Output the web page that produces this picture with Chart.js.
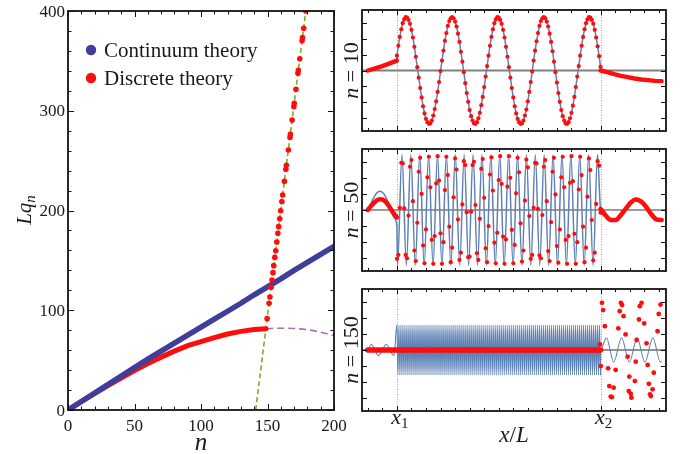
<!DOCTYPE html>
<html lang="en">
<head>
<meta charset="UTF-8">
<title>Lq_n dispersion and mode shapes</title>
<script src="https://cdn.jsdelivr.net/npm/chart.js@4.4.1/dist/chart.umd.min.js"></script>
<style>
  body { margin: 0; background: #fff; }
  #wrap { position: relative; width: 683px; height: 454px; }
  #wrap canvas { position: absolute; left: 0; top: 0; }
</style>
</head>
<body>
<div id="wrap">
  <canvas id="cMain" width="683" height="454"></canvas>
  <canvas id="c10" width="683" height="454"></canvas>
  <canvas id="c50" width="683" height="454"></canvas>
  <canvas id="c150" width="683" height="454"></canvas>
</div>
<script>
// ---- left plot: L q_n versus n ----
const contN  = [0,10,20,30,40,50,60,70,80,90,100,110,120,130,140,150,160,170,180,190,200];
const contLq = [0,8.5,17,25.5,34,42.5,51,59,67,75,83,91,99,107,115.5,123.5,131.5,140,148,156,164];
const discN  = [0,10,20,30,40,50,60,70,80,90,100,110,120,130,140,149];
const discLq = [0,8.3,16.5,24.5,32,39.5,46.5,53,59,64.5,68.5,72.5,76.2,78.8,80.6,81.5];
const upperN  = [149.7,151.2,151.8,152.7,153.4,154.1,154.7,155.5,156.2,157.0,157.8,158.4,159.2,159.9,160.8,161.4,162.7,163.8,164.2,165.7,166.9,167.2,168.5,169.8,170.1,171.4,172.9,173.2,174.3,176.0,176.3,177.2,178.8];
const upperLq = [91.6,106.9,113.3,123.0,130.3,137.7,144.7,153.0,159.7,168.4,177.1,183.8,191.8,199.8,208.9,215.5,229.2,241.3,245.3,260.6,273.3,276.5,290.7,304.1,307.5,321.5,337.5,340.5,352.2,370.3,373.5,382.6,400];
const purpleN  = [149,160,170,180,190,200];
const purpleLq = [81.5,82,81.7,80.5,78,74.5];
const greenN  = [141.1,178.8];
const greenLq = [0,400];
const mainXTicks = [0,50,100,150,200];
const mainYTicks = [0,100,200,300,400];
const mainXMinor = [10,20,30,40,60,70,80,90,110,120,130,140,160,170,180,190];
const mainYMinor = [20,40,60,80,120,140,160,180,220,240,260,280,320,340,360,380];

// ---- right panels: mode shapes versus x/L ----
const segLeft = [0, 0.1], segMid = [0.1, 0.8], segRight = [0.8, 1.01];
const panelXTicks = [0,0.05,0.1,0.15,0.2,0.25,0.3,0.35,0.4,0.45,0.5,0.55,0.6,0.65,0.7,0.75,0.8,0.85,0.9,0.95,1.0];
const panelMarks = [0.1, 0.8];
const panelMarkLabels = ['1', '2'];
const panelYTicks = [-0.87,-0.58,-0.29,0,0.29,0.58,0.87];

// n = 10 (continuum and discrete coincide)
const n10Left  = [0, 0.04, 0.08, 0.13, 0.18];
const n10Mid = [
  0.27,0.45,0.61,0.75,0.86,0.93,0.97,0.96,0.92,0.85,
  0.74,0.60,0.43,0.25,0.06,-0.13,-0.32,-0.49,-0.65,-0.78,
  -0.88,-0.94,-0.97,-0.96,-0.91,-0.82,-0.70,-0.56,-0.39,-0.21,
  -0.01,0.18,0.36,0.54,0.68,0.81,0.90,0.95,0.97,0.95,
  0.89,0.80,0.67,0.52,0.34,0.16,-0.03,-0.23,-0.41,-0.57,
  -0.72,-0.83,-0.91,-0.96,-0.97,-0.94,-0.87,-0.77,-0.63,-0.48,
  -0.30,-0.11,0.08,0.27,0.45,0.61,0.75,0.86,0.93,0.97,
  0.96,0.92,0.85,0.74,0.60,0.43,0.25,0.06,-0.13,-0.32,
  -0.49,-0.65,-0.78,-0.88,-0.94,-0.97,-0.96,-0.91,-0.82,-0.71,
  -0.56,-0.39,-0.21,-0.02,0.18,0.36,0.53,0.68,0.81,0.90,
  0.95,0.97,0.95,0.89,0.80,0.67,0.52,0.35,0.16,-0.03,
  -0.22,-0.41,-0.57,-0.72,-0.83,-0.91,-0.96,-0.97,-0.94,-0.87,
  -0.77,-0.64,-0.48,-0.30,-0.11,0.08,0.27,0.45,0.61,0.75,
  0.86,0.93,0.97,0.96,0.92,0.85,0.74,0.60,0.44,0.26,
  0.07];
const n10Right = [0,-0.03,-0.067,-0.097,-0.12,-0.145,-0.164,-0.176,-0.188,-0.194];

// n = 50
const n50LeftRed  = [0,0.065,0.125,0.17,0.195,0.19,0.155,0.09,0.01,-0.07,-0.13];
const n50LeftBlue = [0,0.11,0.22,0.30,0.34,0.32,0.25,0.14,0.01,-0.14,-0.29];
const n50MidRed = [
  -0.88,-0.81,0.04,0.85,0.84,0.03,  -0.81,-0.87,-0.10,0.78,0.90,0.16,
  -0.73,-0.92,-0.23,0.69,0.94,0.29,  -0.64,-0.96,-0.35,0.59,0.96,0.41,
  -0.54,-0.97,-0.47,0.48,0.97,0.53,  -0.42,-0.97,-0.58,0.36,0.96,0.63,
  -0.30,-0.94,-0.68,0.23,0.93,0.73,  -0.17,-0.90,-0.77,0.10,0.88,0.81,
  -0.04,-0.85,-0.84,-0.03,0.81,0.87, 0.09,-0.78,-0.90,-0.16,0.74,0.92,
  0.22,-0.69,-0.94,-0.29,0.64,0.95,  0.35,-0.59,-0.96,-0.41,0.54,0.97,
  0.47,-0.48,-0.97,-0.53,0.42,0.97,  0.58,-0.36,-0.96,-0.63,0.30,0.94,
  0.68,-0.24,-0.93,-0.73,0.17,0.91,  0.77,-0.11,-0.88,-0.81,0.04,0.85,
  0.84,0.02,-0.82,-0.87,-0.09,0.78,  0.90,0.16,-0.74,-0.92,-0.22,0.69,
  0.94,0.28,-0.65,-0.95,-0.35,0.59,  0.96,0.41,-0.54,-0.97,-0.47,0.49,
  0.97,0.52,-0.43,-0.97,-0.58,0.37,  0.96,0.63,-0.30,-0.94,-0.68,0.24,
  0.93,0.72,-0.18,-0.91,-0.77,0.11,  0.88,0.80,-0.05];
const n50MidBlueSpan = [0.102, 0.7896];
const n50MidBlue = [
  -1,1,-1,1,-1,1,-1,1,-1,1,-1,1,-1,1,-1,1,-1,1,-1,1,-1,1,-1,1,
  -1,1,-1,1,-1,1,-1,1,-1,1,-1,1,-1,1,-1,1,-1,1,-1,1,-1,1];
const n50RightRed  = [0.02,-0.10,-0.18,-0.18,-0.09,0.03,0.14,0.19,0.15,0.05,-0.08,-0.17,-0.18];
const n50RightBlue = [0.02,-0.11,-0.20,-0.20,-0.10,0.03,0.15,0.21,0.17,0.05,-0.09,-0.19,-0.20];

// n = 150
const n150LeftBlueX = [0,0.012,0.037,0.063,0.09];
const n150LeftBlue  = [0,0.1,-0.1,0.1,-0.1];
const n150MidBlue = [
  0.45,-0.45,0.45,-0.45,0.45,-0.45,0.45,-0.45,0.45,-0.45,0.45,-0.45,0.45,-0.45,0.45,-0.45,0.45,-0.45,0.45,-0.45,
  0.45,-0.45,0.45,-0.45,0.45,-0.45,0.45,-0.45,0.45,-0.45,0.45,-0.45,0.45,-0.45,0.45,-0.45,0.45,-0.45,0.45,-0.45,
  0.45,-0.45,0.45,-0.45,0.45,-0.45,0.45,-0.45,0.45,-0.45,0.45,-0.45,0.45,-0.45,0.45,-0.45,0.45,-0.45,0.45,-0.45,
  0.45,-0.45,0.45,-0.45,0.45,-0.45,0.45,-0.45,0.45,-0.45,0.45,-0.45,0.45,-0.45,0.45,-0.45,0.45,-0.45,0.45,-0.45,
  0.45,-0.45,0.45,-0.45,0.45,-0.45,0.45,-0.45,0.45,-0.45,0.45,-0.45,0.45,-0.45,0.45,-0.45,0.45,-0.45,0.45,-0.45,
  0.45,-0.45,0.45,-0.45,0.45,-0.45,0.45,-0.45,0.45,-0.45,0.45,-0.45,0.45,-0.45,0.45,-0.45,0.45,-0.45,0.45,-0.45,
  0.45,-0.45,0.45,-0.45,0.45,-0.45,0.45,-0.45,0.45,-0.45,0.45,-0.45,0.45,-0.45,0.45,-0.45,0.45,-0.45,0.45,-0.45,
  0.45,-0.45,0.45,-0.45,0.45,-0.45,0.45,-0.45,0.45,-0.45,0.45,-0.45,0.45,-0.45,0.45,-0.45,0.45,-0.45,0.45,-0.45,
  0.45,-0.45,0.45,-0.45,0.45,-0.45,0.45,-0.45,0.45,-0.45,0.45,-0.45,0.45,-0.45,0.45,-0.45,0.45,-0.45,0.45,-0.45,
  0.45,-0.45,0.45,-0.45,0.45,-0.45,0.45,-0.45,0.45,-0.45,0.45,-0.45,0.45,-0.45,0.45,-0.45,0.45,-0.45,0.45,-0.45,
  0.45,-0.45,0.45,-0.45];
const n150RightBlueX = [0.8,0.8204,0.8453,0.8722,0.899,0.9259,0.9524,0.9799,1.0057,1.0098];
const n150RightBlue  = [0,0.22,-0.22,0.22,-0.22,0.22,-0.22,0.22,-0.22,-0.2];
const n150FlatX = [0, 0.1, 0.8];
const n150Flat  = [0, 0, 0];
const n150DotsX = [0.805,0.809,0.815,0.798,0.801,0.826,0.852,0.830,0.845,0.835,0.839,0.861,0.866,0.870,0.874,0.879,0.886,0.893,0.897,0.899,0.906,0.904,0.918,0.921,0.924,0.932,0.935,0.941,0.950,0.958,0.962,0.966,0.970,0.973,0.979,0.983,0.996,1.000,1.006];
const n150Dots  = [0.85,0.72,0.43,0.10,-0.29,-0.33,-0.36,-0.65,-0.68,-0.84,-0.85,0.39,0.70,0.85,0.81,0.61,0.28,-0.12,-0.74,-0.48,-0.86,-0.79,-0.56,-0.21,0.18,0.55,0.79,0.85,0.48,0.12,-0.27,-0.61,-0.80,-0.83,-0.71,-0.41,0.34,0.65,0.82];

const RED = '#ff0d0d', BLUE = '#5e81b5', DEEP = '#3f3e9a';
const SERIF = '"Liberation Serif", "DejaVu Serif", serif';

function pairs(xs, ys) { return xs.map((x, i) => ({ x: x, y: ys[i] })); }
// spread values evenly over a segment of the x axis
function along(seg, ys) {
  const step = (seg[1] - seg[0]) / (ys.length - 1);
  return ys.map((y, i) => ({ x: seg[0] + i * step, y: y }));
}

// text made of pieces: [text, size, italic, dy]
function drawParts(ctx, parts, cx, cy, rot) {
  ctx.save();
  ctx.translate(cx, cy);
  if (rot) ctx.rotate(rot);
  ctx.fillStyle = '#1a1a1a';
  ctx.textBaseline = 'alphabetic';
  ctx.textAlign = 'left';
  let w = 0;
  const widths = parts.map(p => {
    ctx.font = (p[2] ? 'italic ' : '') + p[1] + 'px ' + SERIF;
    const m = ctx.measureText(p[0]).width;
    w += m;
    return m;
  });
  let x = -w / 2;
  parts.forEach((p, i) => {
    ctx.font = (p[2] ? 'italic ' : '') + p[1] + 'px ' + SERIF;
    ctx.fillText(p[0], x, p[3] || 0);
    x += widths[i];
  });
  ctx.restore();
}

const framePlugin = {
  id: 'frame',
  beforeDatasetsDraw(chart, args, o) {
    const { ctx, chartArea: a, scales: { x, y } } = chart;
    ctx.save();
    if (o.marks) {
      ctx.strokeStyle = '#8a8a8a';
      ctx.lineWidth = 0.8;
      ctx.setLineDash([1, 1.5]);
      o.marks.forEach(v => {
        const px = Math.round(x.getPixelForValue(v)) + 0.5;
        ctx.beginPath(); ctx.moveTo(px, a.top); ctx.lineTo(px, a.bottom); ctx.stroke();
      });
      ctx.setLineDash([]);
    }
    if (o.zero) {
      const py = y.getPixelForValue(0);
      ctx.strokeStyle = o.zero.color;
      ctx.lineWidth = o.zero.width;
      ctx.beginPath(); ctx.moveTo(a.left, py); ctx.lineTo(a.right, py); ctx.stroke();
    }
    ctx.restore();
  },
  afterDraw(chart, args, o) {
    const { ctx, chartArea: a, scales: { x, y } } = chart;
    ctx.save();
    ctx.strokeStyle = '#111';
    ctx.lineWidth = 1;
    const tickX = (vals, len) => vals.forEach(v => {
      const px = Math.round(x.getPixelForValue(v)) + 0.5;
      ctx.beginPath();
      ctx.moveTo(px, a.bottom); ctx.lineTo(px, a.bottom - len);
      ctx.moveTo(px, a.top); ctx.lineTo(px, a.top + len);
      ctx.stroke();
    });
    const tickY = (vals, len) => vals.forEach(v => {
      const py = Math.round(y.getPixelForValue(v)) + 0.5;
      ctx.beginPath();
      ctx.moveTo(a.left, py); ctx.lineTo(a.left + len, py);
      ctx.moveTo(a.right, py); ctx.lineTo(a.right - len, py);
      ctx.stroke();
    });
    tickX(o.xMajor || [], o.majorLen);
    tickX(o.xMinor || [], o.minorLen);
    tickY(o.yMajor || [], o.majorLen);
    tickY(o.yMinor || [], o.minorLen);

    ctx.lineWidth = 1.8;
    ctx.strokeRect(a.left, a.top, a.right - a.left, a.bottom - a.top);

    ctx.fillStyle = '#1a1a1a';
    if (o.xLabels) {
      ctx.font = '17px ' + SERIF;
      ctx.textAlign = 'center';
      ctx.textBaseline = 'alphabetic';
      o.xLabels.forEach(v => ctx.fillText(String(v), x.getPixelForValue(v), a.bottom + 21));
    }
    if (o.yLabels) {
      ctx.font = '17px ' + SERIF;
      ctx.textAlign = 'right';
      ctx.textBaseline = 'alphabetic';
      o.yLabels.forEach(v => ctx.fillText(String(v), a.left - 3, y.getPixelForValue(v) + 5.5));
    }
    if (o.markLabels) {
      o.markLabels.forEach((lab, i) => {
        drawParts(ctx, [['x', 22, true, 0], [lab, 15, false, 4]], x.getPixelForValue(o.marks[i]) + 3, a.bottom + 13);
      });
    }
    if (o.legend) {
      o.legend.forEach((it, i) => {
        const ds = chart.data.datasets[it];
        const cy = 50 + i * 28;
        ctx.fillStyle = ds.legendColor;
        ctx.beginPath(); ctx.arc(91, cy, 5.2, 0, Math.PI * 2); ctx.fill();
        ctx.fillStyle = '#1a1a1a';
        ctx.font = '21px ' + SERIF;
        ctx.textAlign = 'left';
        ctx.textBaseline = 'middle';
        ctx.fillText(ds.label, 104, cy + 1);
      });
    }
    (o.texts || []).forEach(t => drawParts(ctx, t.parts, t.x, t.y, t.rot));
    ctx.restore();
  }
};

function baseOptions(pad, xr, yr, frame) {
  return {
    responsive: false,
    animation: false,
    devicePixelRatio: 1,
    layout: { padding: pad },
    plugins: { legend: { display: false }, tooltip: { enabled: false }, frame: frame },
    scales: {
      x: { type: 'linear', display: false, min: xr[0], max: xr[1] },
      y: { type: 'linear', display: false, min: yr[0], max: yr[1] }
    }
  };
}

// ---- left chart ----
new Chart(document.getElementById('cMain'), {
  type: 'scatter',
  data: {
    datasets: [
      { label: 'Continuum theory', legendColor: DEEP, data: pairs(contN, contLq), showLine: true,
        borderColor: DEEP, borderWidth: 5.5, borderCapStyle: 'round', pointRadius: 0, order: 1 },
      { label: 'Discrete theory', legendColor: RED, data: pairs(discN, discLq), showLine: true,
        borderColor: RED, borderWidth: 5, borderCapStyle: 'round', pointRadius: 0, order: 2 },
      { label: 'upper', data: pairs(upperN, upperLq), pointRadius: 2.8, pointBackgroundColor: RED,
        pointBorderWidth: 0, order: 0 },
      { label: 'green', data: pairs(greenN, greenLq), showLine: true, borderColor: '#84a92c',
        borderWidth: 1.6, borderDash: [5, 3], pointRadius: 0, order: 3 },
      { label: 'purple', data: pairs(purpleN, purpleLq), showLine: true, borderColor: '#a374ad',
        borderWidth: 1.6, borderDash: [7, 4], pointRadius: 0, cubicInterpolationMode: 'monotone', order: 4 }
    ]
  },
  options: baseOptions({ left: 68, top: 11, right: 349, bottom: 44 }, [0, 200], [0, 400], {
    xMajor: mainXTicks, xMinor: mainXMinor, yMajor: mainYTicks, yMinor: mainYMinor,
    majorLen: 6, minorLen: 3.5, xLabels: mainXTicks, yLabels: mainYTicks, legend: [0, 1],
    texts: [
      { parts: [['n', 25, true, 0]], x: 201, y: 450 },
      { parts: [['L', 21, true, 0], ['q', 21, true, 0], ['n', 15, true, 4]], x: 31, y: 210, rot: -Math.PI / 2 }
    ]
  }),
  plugins: [framePlugin]
});

function panelFrame(label, cy, zero, extra) {
  return Object.assign({
    xMajor: panelMarks, xMinor: panelXTicks, yMajor: panelYTicks, majorLen: 5, minorLen: 3,
    marks: panelMarks, zero: zero,
    texts: [{ parts: [['n', 22, true, 0], [' = ' + label, 22, false, 0]], x: 358, y: cy, rot: -Math.PI / 2 }]
  }, extra || {});
}
const PX = [-0.02, 1.025], PY = [-1.1, 1.1];

// ---- n = 10 ----
new Chart(document.getElementById('c10'), {
  type: 'scatter',
  data: {
    datasets: [
      { data: along(segLeft, n10Left).concat(along(segMid, n10Mid), along(segRight, n10Right)),
        showLine: true, borderColor: BLUE, borderWidth: 1.5, pointRadius: 0, order: 3 },
      { data: along(segLeft, n10Left), showLine: true, borderColor: RED, borderWidth: 4.4,
        borderCapStyle: 'round', pointRadius: 0, order: 2 },
      { data: along(segRight, n10Right), showLine: true, borderColor: RED, borderWidth: 4.4,
        borderCapStyle: 'round', pointRadius: 0, order: 2 },
      { data: along(segMid, n10Mid), pointRadius: 2.1, pointBackgroundColor: RED, pointBorderWidth: 0, order: 1 }
    ]
  },
  options: baseOptions({ left: 362, right: 17, top: 10, bottom: 323 }, PX, PY,
    panelFrame('10', 70.5, { color: '#808080', width: 1.8 })),
  plugins: [framePlugin]
});

// ---- n = 50 ----
new Chart(document.getElementById('c50'), {
  type: 'scatter',
  data: {
    datasets: [
      { data: along(segLeft, n50LeftBlue).concat(along(n50MidBlueSpan, n50MidBlue), along(segRight, n50RightBlue)),
        showLine: true, borderColor: BLUE, borderWidth: 1.5, pointRadius: 0,
        cubicInterpolationMode: 'monotone', order: 3 },
      { data: along(segLeft, n50LeftRed), showLine: true, borderColor: RED, borderWidth: 4.6,
        borderCapStyle: 'round', pointRadius: 0, cubicInterpolationMode: 'monotone', order: 2 },
      { data: along(segRight, n50RightRed), showLine: true, borderColor: RED, borderWidth: 4.6,
        borderCapStyle: 'round', pointRadius: 0, cubicInterpolationMode: 'monotone', order: 2 },
      { data: along(segMid, n50MidRed), pointRadius: 2.1, pointBackgroundColor: RED, pointBorderWidth: 0, order: 1 }
    ]
  },
  options: baseOptions({ left: 362, right: 17, top: 149, bottom: 183 }, PX, PY,
    panelFrame('50', 210, { color: '#3a3a3a', width: 1.2 })),
  plugins: [framePlugin]
});

// ---- n = 150 ----
new Chart(document.getElementById('c150'), {
  type: 'scatter',
  data: {
    datasets: [
      { data: pairs(n150LeftBlueX, n150LeftBlue).concat(along(segMid, n150MidBlue), pairs(n150RightBlueX, n150RightBlue)),
        showLine: true, borderColor: BLUE, borderWidth: 1.1, pointRadius: 0,
        cubicInterpolationMode: 'monotone', order: 3 },
      { data: pairs(n150FlatX, n150Flat), showLine: true, borderColor: RED, borderWidth: 5.5,
        borderCapStyle: 'round', pointRadius: 0, order: 2 },
      { data: pairs(n150DotsX, n150Dots), pointRadius: 2.4, pointBackgroundColor: RED, pointBorderWidth: 0, order: 1 }
    ]
  },
  options: baseOptions({ left: 362, right: 17, top: 289, bottom: 43 }, PX, PY,
    panelFrame('150', 350, { color: '#222', width: 1.2 }, {
      markLabels: panelMarkLabels,
      texts: [
        { parts: [['n', 22, true, 0], [' = 150', 22, false, 0]], x: 358, y: 350, rot: -Math.PI / 2 },
        { parts: [['x', 23, true, 0], ['/', 23, false, 0], ['L', 23, true, 0]], x: 514, y: 442 }
      ]
    })),
  plugins: [framePlugin]
});
</script>
</body>
</html>
